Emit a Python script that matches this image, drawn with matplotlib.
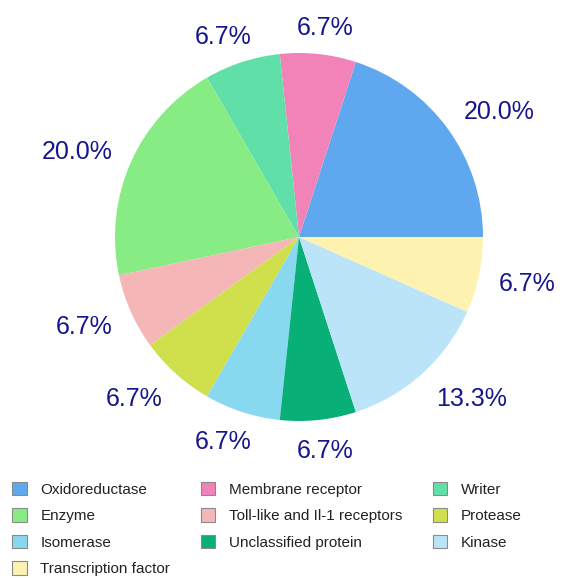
import numpy as np
import matplotlib
matplotlib.use("Agg")
import matplotlib.pyplot as plt
from matplotlib.patches import Patch

plt.rcParams['font.family'] = ['Liberation Sans', 'DejaVu Sans']

# данные (количество белков по классам)
classes = ["Oxidoreductase", "Membrane receptor", "Writer", "Enzyme",
           "Toll-like and Il-1 receptors", "Protease", "Isomerase",
           "Unclassified protein", "Kinase", "Transcription factor"]
counts = [3, 1, 1, 3, 1, 1, 1, 1, 2, 1]
colors = ["#5fa8f0", "#f283b8", "#60e0a8", "#88ec84", "#f4b6b6",
          "#d0e04c", "#88d8f0", "#08b078", "#bce4f8", "#fdf2b0"]

# порядок в легенде (строками по 3)
legend_order = ["Oxidoreductase", "Enzyme", "Isomerase", "Transcription factor",
                "Membrane receptor", "Toll-like and Il-1 receptors", "Unclassified protein",
                "Writer", "Protease", "Kinase"]

W, H = 588, 578
fig = plt.figure(figsize=(W / 100, H / 100), dpi=100)

# центр круга (299, 237) px, радиус 184 px
cx, cy, R = 299, 237, 184
lim = 1.4
ax = fig.add_axes([(cx - lim * R) / W, (H - cy - lim * R) / H, 2 * lim * R / W, 2 * lim * R / H])

wedges, texts, autotexts = ax.pie(counts, colors=colors, startangle=0,
                                  autopct='%.1f%%', pctdistance=1.2,
                                  wedgeprops=dict(linewidth=0),
                                  textprops=dict(color="#16168c", fontsize=18))
ax.set_xlim(-lim, lim)
ax.set_ylim(-lim, lim)
ax.set_aspect('equal')
ax.axis('off')

# метки снаружи: точка на радиусе 1.11, текст "прилипает" к ней углом
fig.canvas.draw()
r_in = fig.canvas.get_renderer()
for w, t in zip(wedges, autotexts):
    th = np.deg2rad((w.theta1 + w.theta2) / 2)
    c, s = np.cos(th), np.sin(th)
    hw = t.get_window_extent(r_in).width / 2 / R
    hh = 8 / R
    x = 1.11 * c + hw * np.sign(c) * min(1, 1.5 * abs(c))
    y = 1.11 * s + hh * np.sign(s) * min(1, 1.5 * abs(s))
    t.set_position((x, y))
    t.set_ha('center')
    t.set_va('center_baseline')
    t.set_clip_on(False)

col = dict(zip(classes, colors))
handles = [Patch(facecolor=col[c], edgecolor="#8a8a8a", linewidth=0.8, label=c)
           for c in legend_order]
fig.legend(handles=handles, ncol=3, loc='upper left',
           bbox_to_anchor=(12 / W, (H - 482) / H), frameon=False,
           borderpad=0, borderaxespad=0, fontsize=11,
           handlelength=0.95, handleheight=0.95, handletextpad=0.9,
           columnspacing=2.0, labelspacing=0.76, labelcolor="#222222")

fig.savefig("out.png", dpi=100)
